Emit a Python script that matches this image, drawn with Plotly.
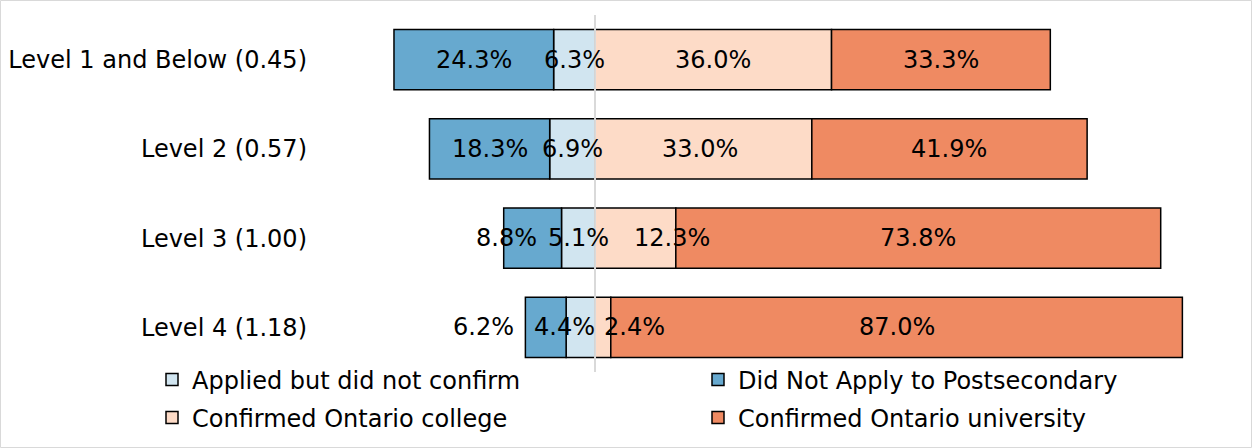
import plotly.graph_objects as go

categories = ["Level 1 and Below (0.45)", "Level 2 (0.57)", "Level 3 (1.00)", "Level 4 (1.18)"]
applied = [6.3, 6.9, 5.1, 4.4]        # Applied but did not confirm (left of zero)
did_not = [24.3, 18.3, 8.8, 6.2]      # Did Not Apply to Postsecondary (left, outer)
college = [36.0, 33.0, 12.3, 2.4]     # Confirmed Ontario college
university = [33.3, 41.9, 73.8, 87.0] # Confirmed Ontario university

# label nudges (px) that mimic the original label placement
shift_applied = [0, 0, 0, -16]
shift_did_not = [0, 0, -26, -62]
shift_college = [0, -3, 37, 32]
shift_university = [0, 0, 0, 0]

W, H = 1252, 448
L, R, T, B = 320, 12, 15, 76
FONT = "Verdana, DejaVu Sans, sans-serif"
FS = 24

colors = {
    "applied": "#d1e5f0",
    "did_not": "#67a9cf",
    "college": "#fddbc7",
    "university": "#ef8a62",
}

fig = go.Figure()
series = [
    ("Applied but did not confirm", [-v for v in applied], colors["applied"], "legend"),
    ("Did Not Apply to Postsecondary", [-v for v in did_not], colors["did_not"], "legend2"),
    ("Confirmed Ontario college", college, colors["college"], "legend3"),
    ("Confirmed Ontario university", university, colors["university"], "legend4"),
]
for name, vals, col, lg in series:
    fig.add_trace(go.Bar(
        y=categories, x=vals, name=name, orientation="h",
        marker=dict(color=col, line=dict(color="black", width=1.5)),
        width=0.673, legend=lg, hoverinfo="skip",
    ))

annotations = []
for i, cat in enumerate(categories):
    a, d, c, u = applied[i], did_not[i], college[i], university[i]
    segs = [
        (-a / 2, a, shift_applied[i]),
        (-a - d / 2, d, shift_did_not[i]),
        (c / 2, c, shift_college[i]),
        (c + u / 2, u, shift_university[i]),
    ]
    for xc, v, sh in segs:
        annotations.append(dict(
            x=xc, y=cat, xref="x", yref="y", text=f"{v:.1f}%", showarrow=False,
            xshift=sh, font=dict(family=FONT, size=FS, color="black"),
        ))

pw = W - L - R
ph = H - T - B
legend_common = dict(orientation="h", xanchor="left", yanchor="middle",
                     font=dict(family=FONT, size=FS, color="black"),
                     bgcolor="rgba(0,0,0,0)",
                     xref="container", yref="container")
col1, col2 = 152, 698
row1, row2 = 380, 418
fig.update_layout(
    width=W, height=H,
    margin=dict(l=L, r=R, t=T, b=B, autoexpand=False),
    paper_bgcolor="white", plot_bgcolor="white",
    barmode="relative",
    font=dict(family=FONT, size=FS, color="black"),
    xaxis=dict(visible=False, range=[-41.86, 98.17], fixedrange=True),
    yaxis=dict(categoryorder="array", categoryarray=categories, autorange="reversed",
               showgrid=False, zeroline=False, showline=False, ticks="",
               ticklabelstandoff=12, fixedrange=True,
               tickfont=dict(family=FONT, size=FS, color="black")),
    legend=dict(legend_common, x=col1 / W, y=1 - row1 / H),
    legend2=dict(legend_common, x=col2 / W, y=1 - row1 / H),
    legend3=dict(legend_common, x=col1 / W, y=1 - row2 / H),
    legend4=dict(legend_common, x=col2 / W, y=1 - row2 / H),
    annotations=annotations,
    showlegend=True,
)

fig.add_shape(type="line", x0=0, x1=0, xref="x", y0=0, y1=1, yref="paper",
              line=dict(color="#d9d9d9", width=2), layer="above")
fig.add_shape(type="rect", xref="paper", yref="paper",
              x0=(0.5 - L) / pw, x1=(W - 0.5 - L) / pw,
              y0=-(B - 0.5) / ph, y1=1 + (T - 0.5) / ph,
              line=dict(color="#d9d9d9", width=1), layer="below")

fig.write_html("out.html", config={"displayModeBar": False},
               post_script="document.body.style.margin='0';document.body.style.overflow='hidden';")
